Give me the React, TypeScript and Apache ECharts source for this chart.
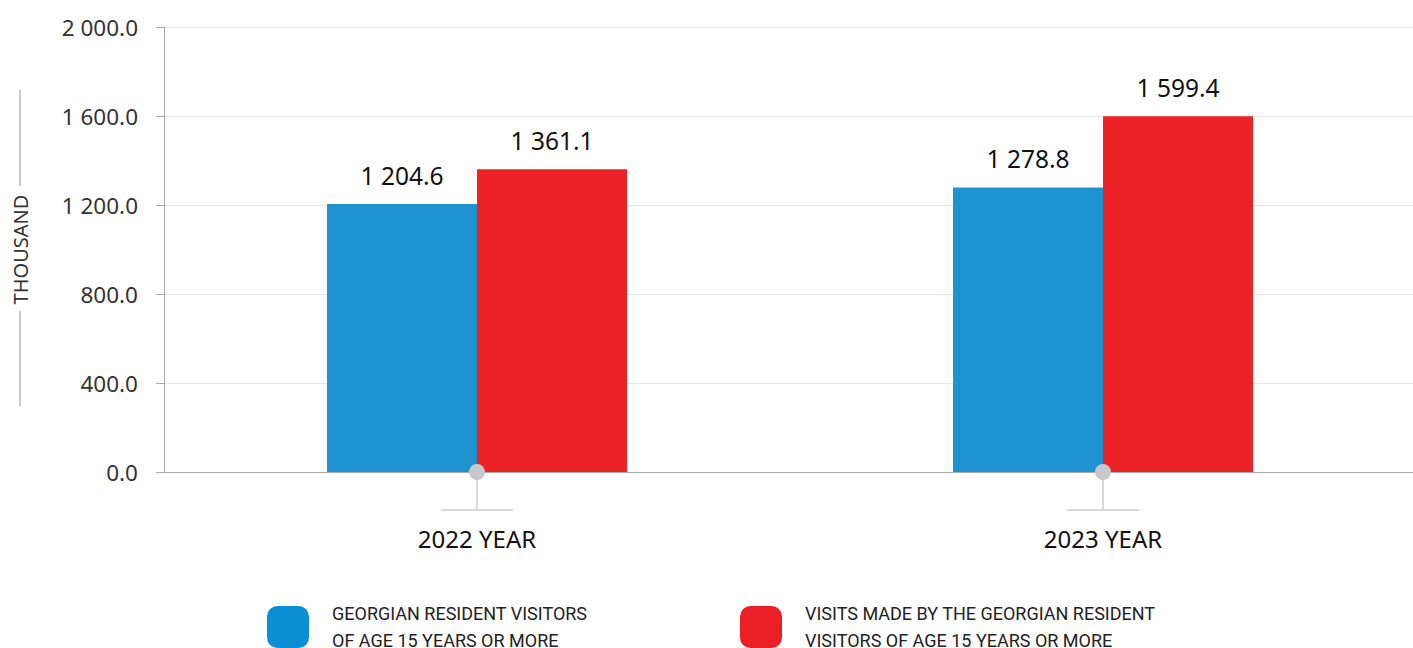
import React, { useEffect, useRef } from "react";
import * as echarts from "echarts";

const categories = ["2022 YEAR", "2023 YEAR"];
const residentVisitors = [1204.6, 1278.8];
const visitsMade = [1361.1, 1599.4];
const seriesNames = [
  "GEORGIAN RESIDENT VISITORS\nOF AGE 15 YEARS OR MORE",
  "VISITS MADE BY THE GEORGIAN RESIDENT\nVISITORS OF AGE 15 YEARS OR MORE",
];
const yAxisName = "THOUSAND";

const fmt = (v: number) => {
  const s = v.toFixed(1);
  const [i, d] = s.split(".");
  return i.replace(/\B(?=(\d{3})+(?!\d))/g, " ") + "." + d;
};

export default function App() {
  const ref = useRef<HTMLDivElement>(null);
  useEffect(() => {
    if (!ref.current) return;
    const chart = echarts.init(ref.current, undefined, { renderer: "svg" });
    const font = "Noto Sans";
    const legendText = {
      fontFamily: "Roboto",
      fontSize: 18,
      color: "#222",
      lineHeight: 27,
      padding: [0, 0, 0, 18],
    };
    chart.setOption({
      animation: false,
      grid: {
        left: 164,
        right: -3,
        top: 27,
        bottom: 176,
        containLabel: false,
        outerBoundsMode: "none",
      },
      legend: [
        {
          left: 267,
          top: 600,
          padding: 0,
          data: [{ name: seriesNames[0], itemStyle: { color: "#0a8fd4" } }],
          icon: "roundRect",
          itemWidth: 42,
          itemHeight: 42,
          textStyle: legendText,
          selectedMode: false,
        },
        {
          left: 740,
          top: 600,
          padding: 0,
          data: [{ name: seriesNames[1], itemStyle: { color: "#ec1f26" } }],
          icon: "roundRect",
          itemWidth: 42,
          itemHeight: 42,
          textStyle: legendText,
          selectedMode: false,
        },
      ],
      xAxis: {
        type: "category",
        data: categories,
        axisLine: { lineStyle: { color: "#a8a8a8", width: 1 } },
        axisTick: { show: false },
        axisLabel: { fontFamily: font, fontSize: 24, color: "#111", margin: 54 },
      },
      yAxis: {
        type: "value",
        min: 0,
        max: 2000,
        interval: 400,
        name: yAxisName,
        nameLocation: "middle",
        nameRotate: 90,
        nameGap: 134,
        nameTextStyle: { fontFamily: font, fontSize: 20, color: "#333" },
        axisLine: { show: true, lineStyle: { color: "#a8a8a8" } },
        axisTick: { show: true, length: 8, lineStyle: { color: "#a8a8a8" } },
        axisLabel: {
          fontFamily: font,
          fontSize: 22.5,
          color: "#333",
          margin: 26,
          formatter: (v: number) => fmt(v),
        },
        splitLine: { lineStyle: { color: "#e6e6e6" } },
      },
      graphic: [
        { type: "line", shape: { x1: 20, y1: 90, x2: 20, y2: 186 }, style: { stroke: "#b8b8b8", lineWidth: 1.5 } },
        { type: "line", shape: { x1: 20, y1: 311, x2: 20, y2: 406 }, style: { stroke: "#b8b8b8", lineWidth: 1.5 } },
      ],
      series: [
        {
          name: seriesNames[0],
          type: "bar",
          data: residentVisitors,
          barWidth: 150,
          barGap: "0%",
          itemStyle: { color: "#1f93d0" },
          label: {
            show: true,
            position: "top",
            distance: 16,
            fontFamily: font,
            fontSize: 24.5,
            color: "#111",
            formatter: (p: any) => fmt(p.value),
          },
        },
        {
          name: seriesNames[1],
          type: "bar",
          data: visitsMade,
          barWidth: 150,
          barGap: "0%",
          itemStyle: { color: "#ec2227" },
          label: {
            show: true,
            position: "top",
            distance: 16,
            fontFamily: font,
            fontSize: 24.5,
            color: "#111",
            formatter: (p: any) => fmt(p.value),
          },
        },
        {
          type: "custom",
          z: 10,
          silent: true,
          data: categories.map((_, i) => [i, 0]),
          renderItem: (params: any, api: any) => {
            const pt = api.coord([api.value(0), 0]);
            const x = pt[0];
            const y = pt[1];
            return {
              type: "group",
              children: [
                { type: "line", shape: { x1: x, y1: y, x2: x, y2: y + 38 }, style: { stroke: "#d9d9d9", lineWidth: 2 } },
                { type: "line", shape: { x1: x - 36, y1: y + 38, x2: x + 36, y2: y + 38 }, style: { stroke: "#d9d9d9", lineWidth: 2 } },
                { type: "circle", shape: { cx: x, cy: y, r: 8 }, style: { fill: "#c8c8ca" } },
              ],
            };
          },
        },
      ],
    });
    return () => chart.dispose();
  }, []);
  return (
    <div
      ref={ref}
      style={{ position: "fixed", left: 0, top: 0, width: 1413, height: 648, background: "#fff" }}
    />
  );
}
